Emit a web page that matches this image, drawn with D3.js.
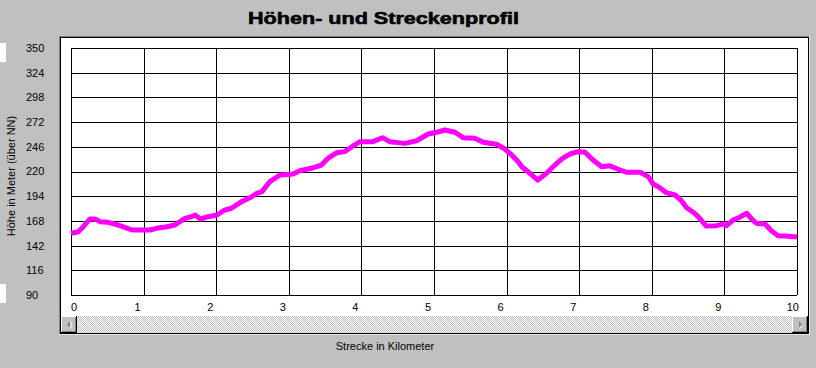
<!DOCTYPE html>
<html>
<head>
<meta charset="utf-8">
<script src="https://cdn.jsdelivr.net/npm/d3@7"></script>
<style>
html,body{margin:0;padding:0;background:#c0c0c0;}
svg{display:block;}
text{font-family:"Liberation Sans",Arial,sans-serif;}
</style>
</head>
<body>
<svg id="chart" width="816" height="368"></svg>
<script>
const km = [0,0.1,0.17,0.26,0.33,0.4,0.51,0.65,0.74,0.84,1.0,1.09,1.18,1.32,1.43,1.57,1.66,1.71,1.78,1.89,2.01,2.12,2.21,2.35,2.47,2.56,2.63,2.74,2.88,3.06,3.15,3.34,3.45,3.54,3.66,3.77,3.87,3.98,4.16,4.29,4.39,4.6,4.76,4.92,5.04,5.15,5.29,5.4,5.56,5.68,5.86,5.95,6.07,6.16,6.21,6.32,6.43,6.55,6.64,6.76,6.87,6.99,7.08,7.19,7.31,7.42,7.56,7.65,7.84,7.95,8.02,8.11,8.2,8.32,8.41,8.48,8.59,8.66,8.75,8.89,8.98,9.03,9.12,9.21,9.31,9.38,9.44,9.56,9.65,9.74,9.83,10.0];
const hoehe = [155,156.6,161.9,170,170,167.2,166.5,163.7,161.2,158.4,158.4,158.4,160.2,161.9,163.7,170.7,172.4,174.2,170,172.4,174.2,179.5,181.3,188.3,192.6,197,198.8,209.3,216.3,217.4,220.8,224,226.8,233.9,239.8,240.9,246.1,251.4,251.4,255.6,251.4,249.6,252.4,259.5,261.3,263.7,261.3,255.6,255,250.7,248.6,245.1,237.4,230.3,225,218.1,211,218.1,225,233.2,238.4,240.9,240.2,232.1,225,226.1,221.6,219.2,219.2,214.6,206.8,203,197.7,195.3,189,181.9,176,170.7,162.6,163,164.7,163,168.9,171.8,176,169.7,165.5,164.7,157.4,152.4,152.1,151];
const yTicks = [90,116,142,168,194,220,246,272,298,324,350];
const xTicks = [0,1,2,3,4,5,6,7,8,9,10];
const title = "Höhen- und Streckenprofil";
const yTitle = "Höhe in Meter (über NN)";
const xTitle = "Strecke in Kilometer";

const svg = d3.select("#chart");
const x = d3.scaleLinear().domain([0,10]).range([71,797]);
const y = d3.scaleLinear().domain([90,350]).range([295,48]);

// background
svg.append("rect").attr("width",816).attr("height",368).attr("fill","#c0c0c0");

// small white marks at left
svg.append("rect").attr("x",0).attr("y",43).attr("width",6).attr("height",19).attr("fill","#fff");
svg.append("rect").attr("x",0).attr("y",284).attr("width",6).attr("height",19).attr("fill","#fff");

// title
svg.append("text").attr("x",248).attr("y",24).attr("font-size",17).attr("font-weight","bold")
  .attr("textLength",271).attr("lengthAdjust","spacingAndGlyphs").attr("fill","#000")
  .attr("stroke","#000").attr("stroke-width",0.6).text(title);

// panel with sunken border
svg.append("rect").attr("x",59).attr("y",36).attr("width",751).attr("height",299).attr("fill","#ffffff");
svg.append("rect").attr("x",59).attr("y",36).attr("width",750).attr("height",298).attr("fill","#808080");
svg.append("rect").attr("x",60).attr("y",37).attr("width",749).attr("height",297).attr("fill","#000");
svg.append("rect").attr("x",61).attr("y",38).attr("width",747).attr("height",295).attr("fill","#fff");
svg.append("line").attr("x1",809.5).attr("x2",809.5).attr("y1",36).attr("y2",335).attr("stroke","#e8e8e8");
svg.append("line").attr("x1",59).attr("x2",810).attr("y1",334.5).attr("y2",334.5).attr("stroke","#e8e8e8");

// grid via axes
const gx = svg.append("g").attr("transform","translate(0,295)")
  .call(d3.axisBottom(x).tickValues(xTicks).tickSize(-(295-48)).tickFormat(""));
const gy = svg.append("g").attr("transform","translate(71,0)")
  .call(d3.axisLeft(y).tickValues(yTicks).tickSize(-(797-71)).tickFormat(""));
[gx,gy].forEach(g=>{
  g.select(".domain").remove();
  g.selectAll("line").attr("stroke","#000").attr("stroke-width",1).attr("shape-rendering","crispEdges");
});

// profile line
const line = d3.line().x((d,i)=>x(km[i])).y((d,i)=>y(hoehe[i])).curve(d3.curveLinear);
svg.append("path").datum(hoehe).attr("d",line).attr("fill","none")
  .attr("stroke","#ff00ff").attr("stroke-width",5).attr("stroke-linejoin","round").attr("stroke-linecap","butt");

// y labels
svg.append("g").selectAll("text").data(yTicks).join("text")
  .attr("x",26).attr("y",d=>y(d)).attr("dy","0.36em").attr("font-size",11).attr("fill","#000")
  .text(d=>d);

// x labels
svg.append("g").selectAll("text").data(xTicks).join("text")
  .attr("x",d=> d===0 ? x(d) : d===10 ? x(d)+2 : x(d)-6)
  .attr("text-anchor",d=> d===0 ? "start" : d===10 ? "end" : "middle")
  .attr("y",311).attr("font-size",11).attr("fill","#000")
  .text(d=>d);

// scrollbar
const defs = svg.append("defs");
const pat = defs.append("pattern").attr("id","checker").attr("width",2).attr("height",2).attr("patternUnits","userSpaceOnUse");
pat.append("rect").attr("width",2).attr("height",2).attr("fill","#ffffff");
pat.append("rect").attr("width",1).attr("height",1).attr("fill","#c0c0c0");
pat.append("rect").attr("x",1).attr("y",1).attr("width",1).attr("height",1).attr("fill","#c0c0c0");
svg.append("rect").attr("x",61).attr("y",316).attr("width",747).attr("height",17).attr("fill","url(#checker)");

function button(bx, dir){
  const g = svg.append("g");
  g.append("rect").attr("x",bx).attr("y",316).attr("width",16).attr("height",17).attr("fill","#000");
  g.append("rect").attr("x",bx).attr("y",316).attr("width",15).attr("height",16).attr("fill","#ffffff");
  g.append("rect").attr("x",bx+1).attr("y",317).attr("width",14).attr("height",15).attr("fill","#808080");
  g.append("rect").attr("x",bx+1).attr("y",317).attr("width",13).attr("height",14).attr("fill","#c0c0c0");
  const cx = bx+8, cy = 324.5;
  const pts = dir<0 ? [[cx-2,cy],[cx+1,cy-3],[cx+1,cy+3]] : [[cx+2,cy],[cx-1,cy-3],[cx-1,cy+3]];
  g.append("path").attr("d","M"+pts.map(p=>p.join(",")).join("L")+"Z").attr("fill","#808080");
  g.append("path").attr("d", dir<0 ? `M${cx+2},${cy-3}L${cx+2},${cy+4}` : `M${cx},${cy+4}L${cx+2},${cy+1}`)
   .attr("stroke","#ffffff").attr("stroke-width",1);
}
button(61,-1);
button(792,1);

// axis titles
svg.append("text").attr("transform","translate(15,176) rotate(-90)").attr("text-anchor","middle")
  .attr("font-size",11).attr("fill","#000").text(yTitle);
svg.append("text").attr("x",385).attr("y",350).attr("text-anchor","middle")
  .attr("font-size",11).attr("fill","#000").text(xTitle);
</script>
</body>
</html>
